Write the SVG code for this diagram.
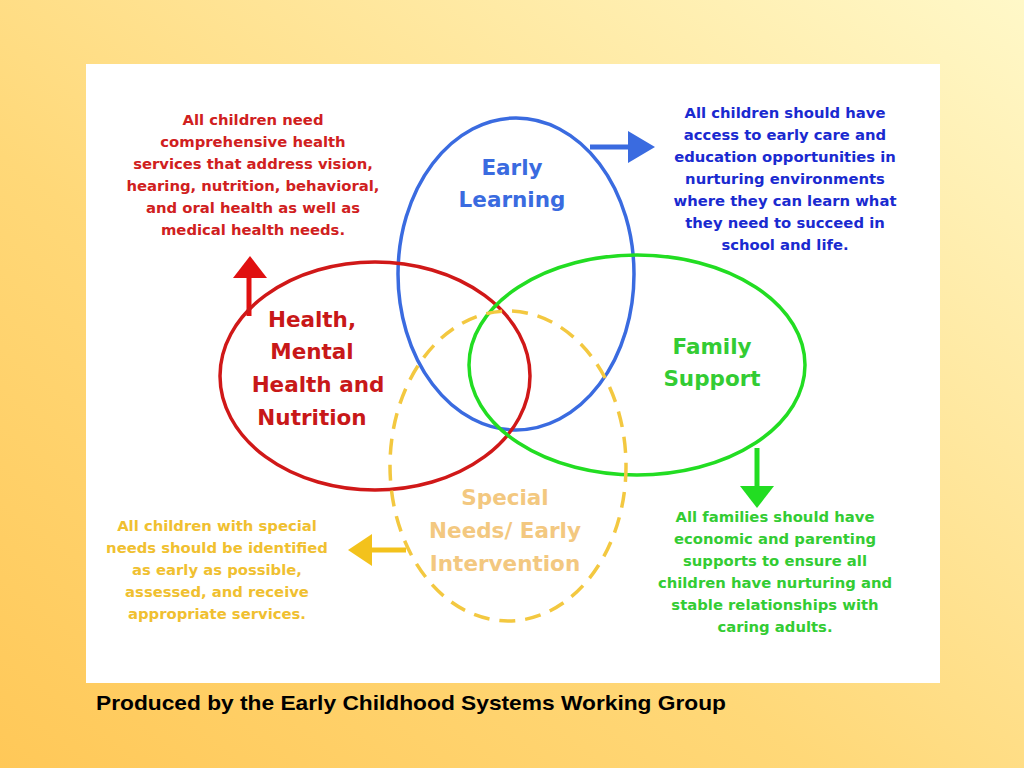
<svg xmlns="http://www.w3.org/2000/svg" width="1024" height="768" viewBox="0 0 1024 768">
<defs>
<linearGradient id="bg" x1="1" y1="0" x2="0" y2="1">
<stop offset="0" stop-color="#fff8c8"/><stop offset="0.6" stop-color="#ffd878"/><stop offset="1" stop-color="#ffc858"/>
</linearGradient>
<style>
text{font-family:"DejaVu Sans",Verdana,sans-serif;text-anchor:middle}
.s{font-size:14.8px;font-weight:bold}
.b{font-size:21.5px;font-weight:bold}
.ell{fill:none;stroke-width:3.5}
</style>
</defs>
<rect width="1024" height="768" fill="url(#bg)"/>
<rect x="86" y="64" width="854" height="619" fill="#fff"/>
<g id="connectors">
<path d="M590 147H632" stroke="#3a6be0" stroke-width="5"/><polygon points="628,131 655,147 628,163" fill="#3a6be0"/>
<path d="M249 316V276" stroke="#e01010" stroke-width="5"/><polygon points="233,278 250,256 267,278" fill="#e01010"/>
<path d="M757 448V488" stroke="#22dd22" stroke-width="5"/><polygon points="740,486 757,508 774,486" fill="#22dd22"/>
<path d="M406 550H368" stroke="#f3c21c" stroke-width="5"/><polygon points="372,534 348,550 372,566" fill="#f3c21c"/>
</g>
<g id="early"><ellipse class="ell" cx="516" cy="274" rx="118" ry="156" stroke="#3a6be0"/>
<text class="b" fill="#3a6be0"><tspan x="512" y="175">Early</tspan><tspan x="512" y="207">Learning</tspan></text></g>
<g id="health"><ellipse class="ell" cx="375" cy="376" rx="155" ry="114" stroke="#d01818"/>
<text class="b" fill="#c81818"><tspan x="312" y="327">Health,</tspan><tspan x="312" y="359">Mental</tspan><tspan x="318" y="392">Health and</tspan><tspan x="312" y="425">Nutrition</tspan></text></g>
<g id="family"><ellipse class="ell" cx="637" cy="365" rx="168" ry="110" stroke="#22dd22"/>
<text class="b" fill="#33cc33"><tspan x="712" y="354">Family</tspan><tspan x="712" y="386">Support</tspan></text></g>
<g id="special"><ellipse class="ell" cx="508" cy="466" rx="118" ry="155" stroke="#f3c840" stroke-dasharray="16,10"/>
<text class="b" fill="#f3c880"><tspan x="505" y="505">Special</tspan><tspan x="505" y="538">Needs/ Early</tspan><tspan x="505" y="571">Intervention</tspan></text></g>
<g id="t-red"><text class="s" fill="#d02020"><tspan x="253" y="125">All children need</tspan><tspan x="253" y="147">comprehensive health</tspan><tspan x="253" y="169">services that address vision,</tspan><tspan x="253" y="191">hearing, nutrition, behavioral,</tspan><tspan x="253" y="213">and oral health as well as</tspan><tspan x="253" y="235">medical health needs.</tspan></text></g>
<g id="t-blue"><text class="s" fill="#1a2ad0"><tspan x="785" y="118">All children should have</tspan><tspan x="785" y="140">access to early care and</tspan><tspan x="785" y="162">education opportunities in</tspan><tspan x="785" y="184">nurturing environments</tspan><tspan x="785" y="206">where they can learn what</tspan><tspan x="785" y="228">they need to succeed in</tspan><tspan x="785" y="250">school and life.</tspan></text></g>
<g id="t-green"><text class="s" fill="#33cc33"><tspan x="775" y="522">All families should have</tspan><tspan x="775" y="544">economic and parenting</tspan><tspan x="775" y="566">supports to ensure all</tspan><tspan x="775" y="588">children have nurturing and</tspan><tspan x="775" y="610">stable relationships with</tspan><tspan x="775" y="632">caring adults.</tspan></text></g>
<g id="t-yellow"><text class="s" fill="#f0c030"><tspan x="217" y="531">All children with special</tspan><tspan x="217" y="553">needs should be identified</tspan><tspan x="217" y="575">as early as possible,</tspan><tspan x="217" y="597">assessed, and receive</tspan><tspan x="217" y="619">appropriate services.</tspan></text></g>
<text x="96" y="710" textLength="630" lengthAdjust="spacingAndGlyphs" style="text-anchor:start;font-family:'Liberation Sans',Arial,sans-serif;font-size:20.5px;font-weight:bold" fill="#000">Produced by the Early Childhood Systems Working Group</text>
</svg>
